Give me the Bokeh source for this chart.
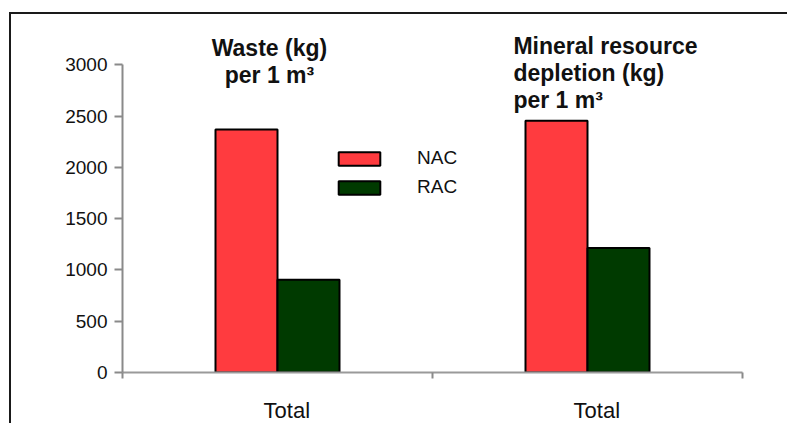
from bokeh.plotting import figure
from bokeh.models import Range1d, FixedTicker, Legend, LegendItem, ColumnDataSource
from bokeh.core.properties import value
from bokeh.embed import file_html
from bokeh.resources import INLINE

# ---- data -------------------------------------------------------------
groups = ["Waste", "Mineral resource depletion"]
group_labels = ["Total", "Total"]
nac = [2370, 2455]
rac = [905, 1215]
series_names = ["NAC", "RAC"]
y_ticks = [0, 500, 1000, 1500, 2000, 2500, 3000]

# panel headings, one entry per line
heading_waste = ["Waste (kg)", "per 1 m\u00b3"]
heading_mineral = ["Mineral resource", "depletion (kg)", "per 1 m\u00b3"]

# ---- styling ----------------------------------------------------------
FONT = "Liberation Sans"
RED = "#FF3B3F"
GREEN = "#003A00"
AXIS_GREY = "#8a8a8a"

# page frame drawn with CSS around the figure
FRAME_X, FRAME_Y, FRAME_W = 9, 12, 2
off_x, off_y = FRAME_X + FRAME_W, FRAME_Y + FRAME_W

W, H = 789 - off_x, 425 - off_y
left_px, right_px, top_px, zero_px = 122 - off_x, 742 - off_x, 15 - off_y, 373 - off_y
top_tick_px = 64.5 - off_y
units_per_px = 3000 / (zero_px - top_tick_px)
y_end = (zero_px - top_px) * units_per_px

p = figure(width=W, height=H, output_backend="svg", toolbar_location=None,
           x_range=Range1d(0, len(groups)), y_range=Range1d(0, y_end),
           min_border_left=left_px, min_border_right=W - right_px,
           min_border_top=top_px, min_border_bottom=H - zero_px)
p.styles = {"margin-left": f"{FRAME_X}px", "margin-top": f"{FRAME_Y}px",
            "border-left": f"{FRAME_W}px solid #1a1a1a",
            "border-top": f"{FRAME_W}px solid #1a1a1a"}
p.outline_line_color = None
p.grid.grid_line_color = None
p.background_fill_color = "white"
p.border_fill_color = "white"

# ---- bars -------------------------------------------------------------
bar_w = 0.2
xs = [i + 0.5 for i in range(len(groups))]
src = ColumnDataSource(dict(
    x_nac=[x - bar_w / 2 for x in xs], x_rac=[x + bar_w / 2 for x in xs],
    nac=nac, rac=rac))
r_nac = p.vbar(x="x_nac", top="nac", bottom=0, width=bar_w, source=src,
               fill_color=RED, line_color="black", line_width=2)
r_rac = p.vbar(x="x_rac", top="rac", bottom=0, width=bar_w, source=src,
               fill_color=GREEN, line_color="black", line_width=2)

# ---- axes -------------------------------------------------------------
ya = p.yaxis[0]
ya.ticker = FixedTicker(ticks=y_ticks)
ya.bounds = (0, 3000)
ya.axis_line_color = AXIS_GREY
ya.axis_line_width = 2
ya.major_tick_line_color = AXIS_GREY
ya.major_tick_line_width = 2
ya.major_tick_out = 8
ya.major_tick_in = 0
ya.minor_tick_line_color = None
ya.major_label_standoff = 7
ya.major_label_text_font = FONT
ya.major_label_text_font_size = "19px"
ya.major_label_text_color = "#111111"

label_pos = [x + 0.03 for x in xs]
xa = p.xaxis[0]
xa.ticker = FixedTicker(ticks=label_pos,
                        minor_ticks=list(range(len(groups) + 1)))
xa.major_label_overrides = {pos: lab for pos, lab in zip(label_pos, group_labels)}
xa.axis_line_color = "#9a9a9a"
xa.axis_line_width = 2
xa.major_tick_line_color = None
xa.major_tick_out = 0
xa.major_tick_in = 0
xa.minor_tick_line_color = AXIS_GREY
xa.minor_tick_line_width = 2
xa.minor_tick_out = 6
xa.minor_tick_in = 0
xa.major_label_standoff = 19
xa.major_label_text_font = FONT
xa.major_label_text_font_size = "22px"
xa.major_label_text_color = "#111111"

# ---- panel headings ----------------------------------------------------
line_step = 27 * units_per_px
for k, line in enumerate(heading_waste):
    p.text(x=[0.474], y=[(zero_px - (48 - off_y)) * units_per_px - k * line_step],
           text=[line], text_font=value(FONT), text_font_style="bold",
           text_font_size="23px", text_align="center",
           text_baseline="alphabetic", text_color="#111111")
for k, line in enumerate(heading_mineral):
    p.text(x=[1.261], y=[(zero_px - (46 - off_y)) * units_per_px - k * line_step],
           text=[line], text_font=value(FONT), text_font_style="bold",
           text_font_size="23px", text_align="left",
           text_baseline="alphabetic", text_color="#111111")

# ---- legend -------------------------------------------------------------
legend = Legend(items=[LegendItem(label=series_names[0], renderers=[r_nac]),
                       LegendItem(label=series_names[1], renderers=[r_rac])],
                location=(333 - 122, 373 - 199),
                glyph_width=52, glyph_height=17, label_height=17,
                label_standoff=32, spacing=7, padding=0, margin=0,
                border_line_color=None, background_fill_alpha=0,
                label_text_font=FONT, label_text_font_size="19px",
                label_text_color="#111111")
p.add_layout(legend)

open("out.html", "w").write(file_html(p, INLINE))
